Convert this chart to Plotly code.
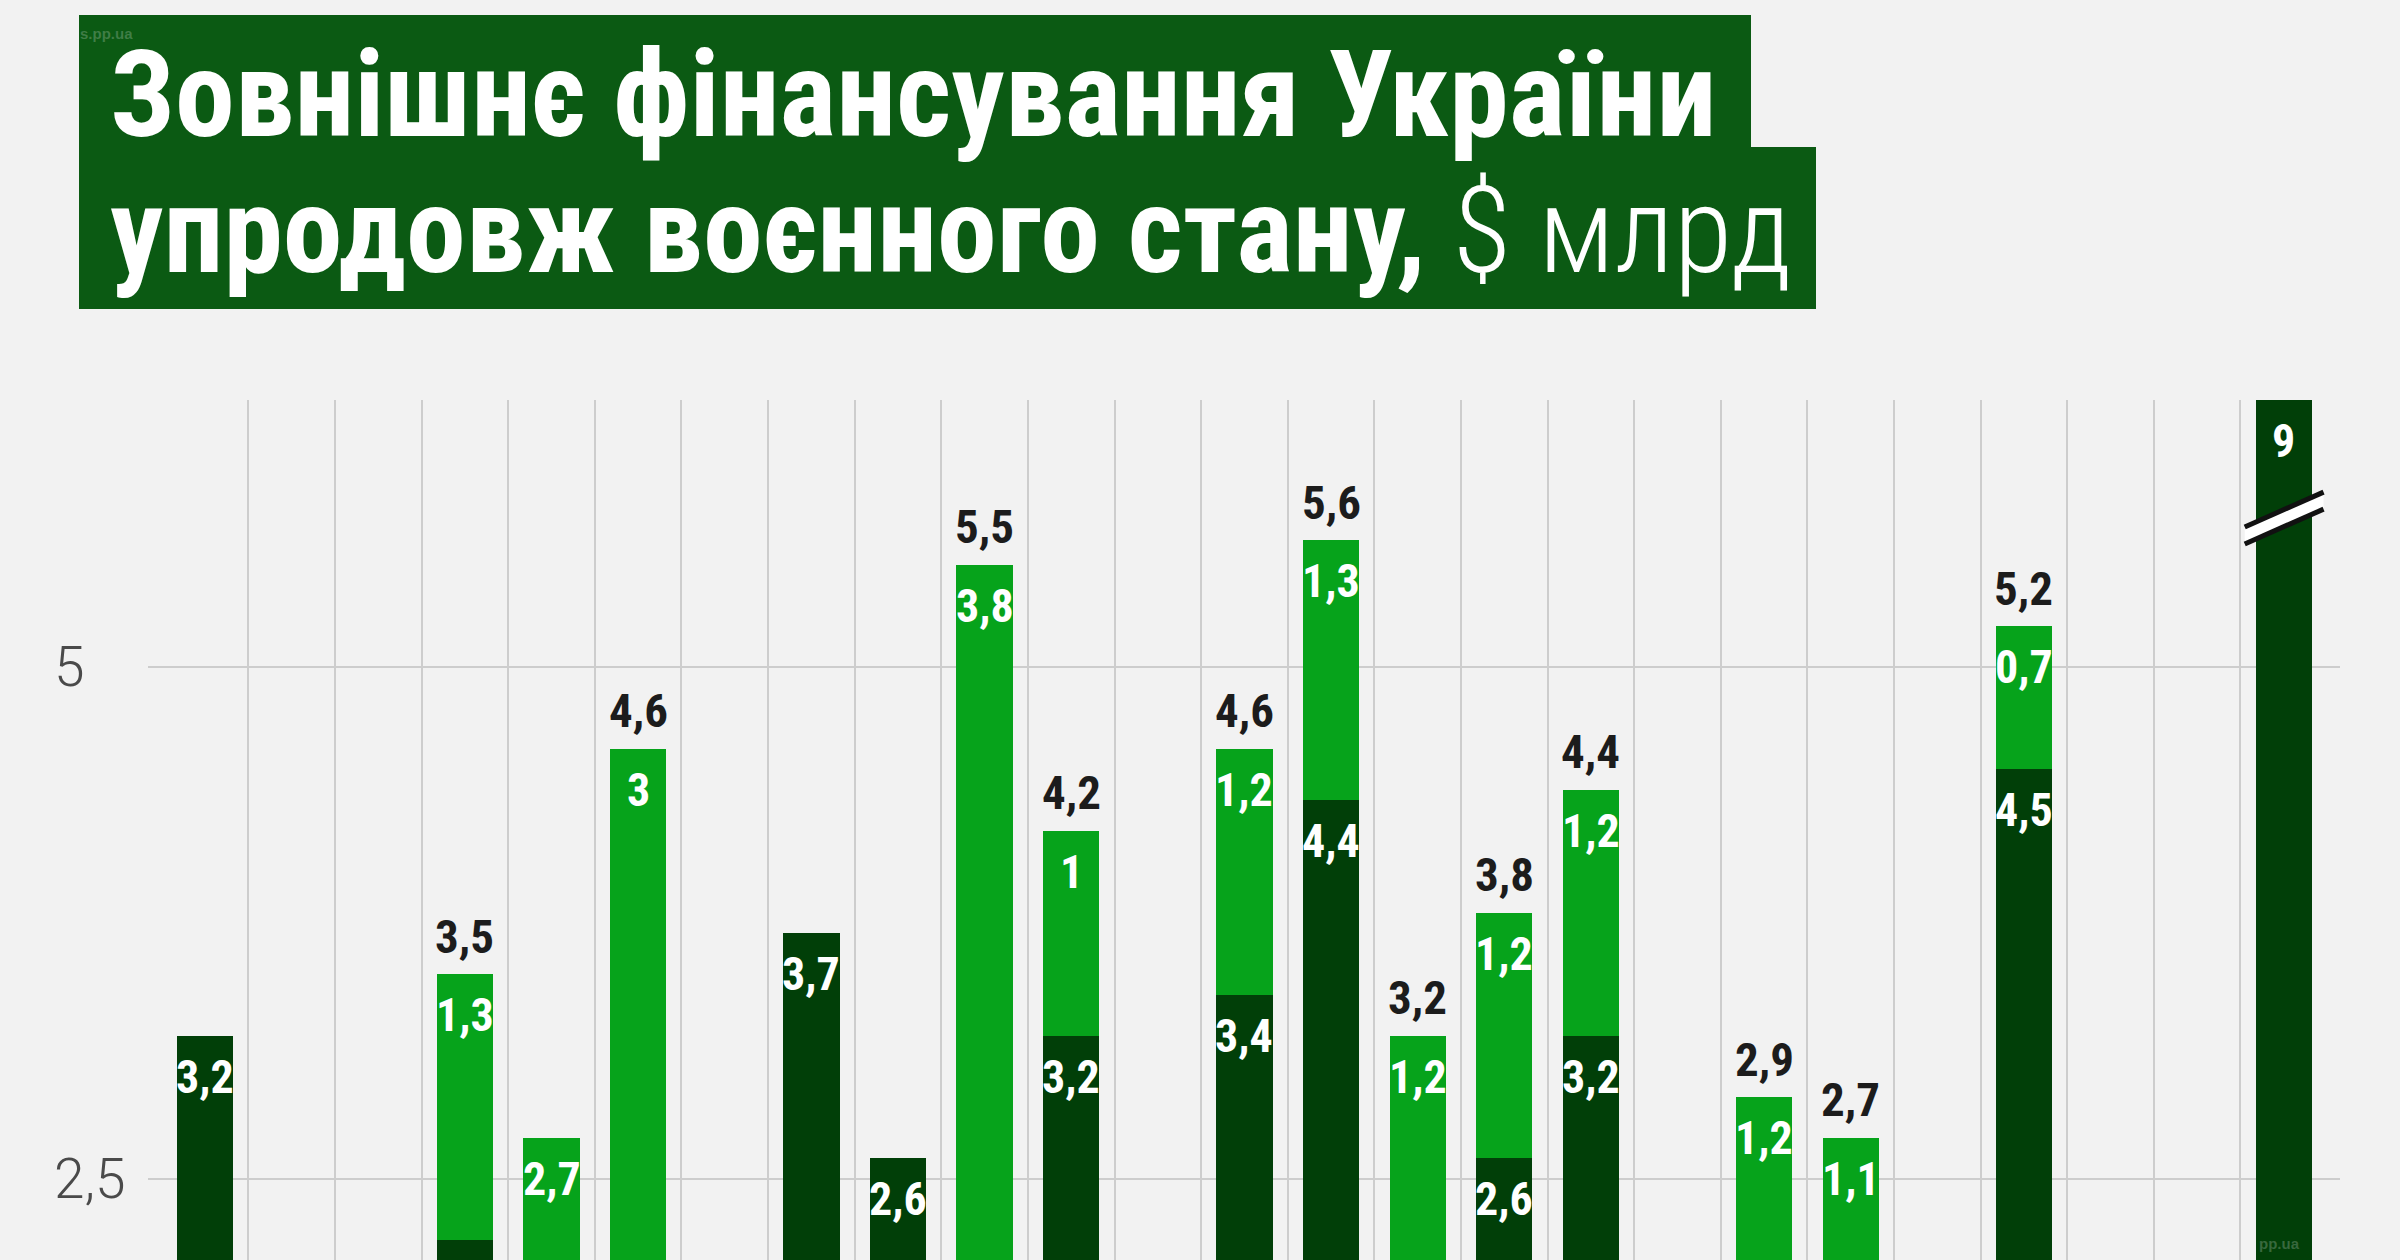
import plotly.graph_objects as go

# ---- data ----
x_pos = list(range(25))
dark = [3.2, 0, 0, 2.2, 0, 1.6, 0, 3.7, 2.6, 1.7, 3.2, 2.1, 3.4, 4.35, 2.0, 2.6, 3.2, 0, 1.7, 1.6, 0, 4.5, 0, 0, 9.0]
light = [0, 0, 0, 1.3, 2.7, 3.0, 0, 0, 0, 3.8, 1.0, 0, 1.2, 1.27, 1.2, 1.2, 1.2, 0, 1.2, 1.1, 0, 0.7, 0, 0, 0]
dark_labels = ["3,2", "", "", "2,2", "", "", "", "3,7", "2,6", "", "3,2", "", "3,4", "4,4", "", "2,6", "3,2", "", "", "", "", "4,5", "", "", "9"]
light_labels = ["", "", "", "1,3", "2,7", "3", "", "", "", "3,8", "1", "", "1,2", "1,3", "1,2", "1,2", "1,2", "", "1,2", "1,1", "", "0,7", "", "", ""]
total_labels = ["", "", "", "3,5", "", "4,6", "", "", "", "5,5", "4,2", "2,1", "4,6", "5,6", "3,2", "3,8", "4,4", "", "2,9", "2,7", "", "5,2", "", "", ""]
y_ticks = [2.5, 5]
y_tick_text = ["2,5", "5"]
title_line1 = "Зовнішнє фінансування України"
title_line2_bold = "упродовж воєнного стану,"
title_line2_rest = " $ млрд"

Y_RANGE = [2.104, 6.304]
X_RANGE = [-0.66, 24.65]

DARK = "#013f08"
LIGHT = "#06a31b"
BOX = "#0b5a13"
BG = "#f2f2f2"
GRID = "#cdcdcd"
COND = "Liberation Sans Narrow, Roboto Condensed, DejaVu Sans Condensed, Arial Narrow, sans-serif"

W, H = 2400, 1260
ML, MR, MT, MB = 148, 60, 400, 0
PW = W - ML - MR
PH = H - MT - MB


def px(v):
    return (v - ML) / PW


def py(v):
    return (H - MB - v) / PH


fig = go.Figure()
fig.add_trace(go.Bar(x=x_pos, y=dark, marker=dict(color=DARK, line=dict(width=0)), width=0.65,
                     hoverinfo="skip", showlegend=False))
fig.add_trace(go.Bar(x=x_pos, y=light, marker=dict(color=LIGHT, line=dict(width=0)), width=0.65,
                     hoverinfo="skip", showlegend=False))

ann = []
lab_font = dict(family=COND, size=46, color="white", weight="bold")
for i in x_pos:
    d, l = dark[i], light[i]
    if dark_labels[i]:
        ann.append(dict(x=i, y=min(d, Y_RANGE[1]), xref="x", yref="y", text=dark_labels[i],
                        showarrow=False, yanchor="middle", xanchor="center", yshift=-41, font=lab_font))
    if light_labels[i]:
        ann.append(dict(x=i, y=d + l, xref="x", yref="y", text=light_labels[i],
                        showarrow=False, yanchor="middle", xanchor="center", yshift=-41, font=lab_font))
    if total_labels[i]:
        ann.append(dict(x=i, y=d + l, xref="x", yref="y", text=total_labels[i],
                        showarrow=False, yanchor="middle", xanchor="center", yshift=38,
                        font=dict(family=COND, size=47, color="#1c1c1c", weight="bold")))

for v, t in zip(y_ticks, y_tick_text):
    ann.append(dict(x=px(52), y=v, xref="paper", yref="y", text=t, showarrow=False,
                    xanchor="left", yanchor="middle",
                    font=dict(family="Liberation Sans Narrow, Roboto, sans-serif", size=55, color="#4a4a4a", weight=300)))

# title
ann.append(dict(x=px(108), y=py(95), xref="paper", yref="paper", text="<b>" + title_line1 + "</b>",
                showarrow=False, xanchor="left", yanchor="middle",
                font=dict(family=COND, size=120, color="white")))
ann.append(dict(x=px(108), y=py(231), xref="paper", yref="paper",
                text="<b>" + title_line2_bold + "</b>" + "<span style='font-weight:300'>" + title_line2_rest + "</span>",
                showarrow=False, xanchor="left", yanchor="middle",
                font=dict(family=COND, size=120, color="white")))
# watermarks
ann.append(dict(x=px(78), y=py(33), xref="paper", yref="paper", text="s.pp.ua", showarrow=False,
                xanchor="left", yanchor="middle",
                font=dict(family="Liberation Sans, Arial, sans-serif", size=15, color="rgba(255,255,255,0.22)", weight="bold")))
ann.append(dict(x=px(2257), y=py(1243), xref="paper", yref="paper", text="pp.ua", showarrow=False,
                xanchor="left", yanchor="middle",
                font=dict(family="Liberation Sans, Arial, sans-serif", size=15, color="rgba(255,255,255,0.22)", weight="bold")))

shapes = [
    dict(type="rect", xref="paper", yref="paper", x0=px(79), x1=px(1751), y0=py(148), y1=py(15),
         fillcolor=BOX, line=dict(width=0), layer="above"),
    dict(type="rect", xref="paper", yref="paper", x0=px(79), x1=px(1816), y0=py(309), y1=py(147),
         fillcolor=BOX, line=dict(width=0), layer="above"),
]
# axis-break mark on the last (off-scale) bar
bx = x_pos[-1]
shapes.append(dict(type="path", xref="x", yref="y",
                   path=f"M {bx-0.45} 5.601 L {bx+0.46} 5.771 L {bx+0.46} 5.854 L {bx-0.45} 5.684 Z",
                   fillcolor="white", line=dict(width=0), layer="above"))
for (ya, yb) in [(5.684, 5.854), (5.601, 5.771)]:
    shapes.append(dict(type="line", xref="x", yref="y", x0=bx - 0.45, x1=bx + 0.46, y0=ya, y1=yb,
                       line=dict(color="#111111", width=5), layer="above"))

fig.update_layout(
    width=W, height=H, barmode="stack", bargap=0.35,
    margin=dict(l=ML, r=MR, t=MT, b=MB, pad=0),
    paper_bgcolor=BG, plot_bgcolor=BG,
    xaxis=dict(range=X_RANGE, tickvals=[k + 0.5 for k in range(24)], showticklabels=False,
               showgrid=True, gridcolor=GRID, gridwidth=2, zeroline=False, showline=False, ticks=""),
    yaxis=dict(range=Y_RANGE, tickvals=y_ticks, showticklabels=False, showgrid=True,
               gridcolor=GRID, gridwidth=2, zeroline=False, showline=False, ticks=""),
    annotations=ann, shapes=shapes,
)

fig.write_html("out.html", config={"displayModeBar": False})
